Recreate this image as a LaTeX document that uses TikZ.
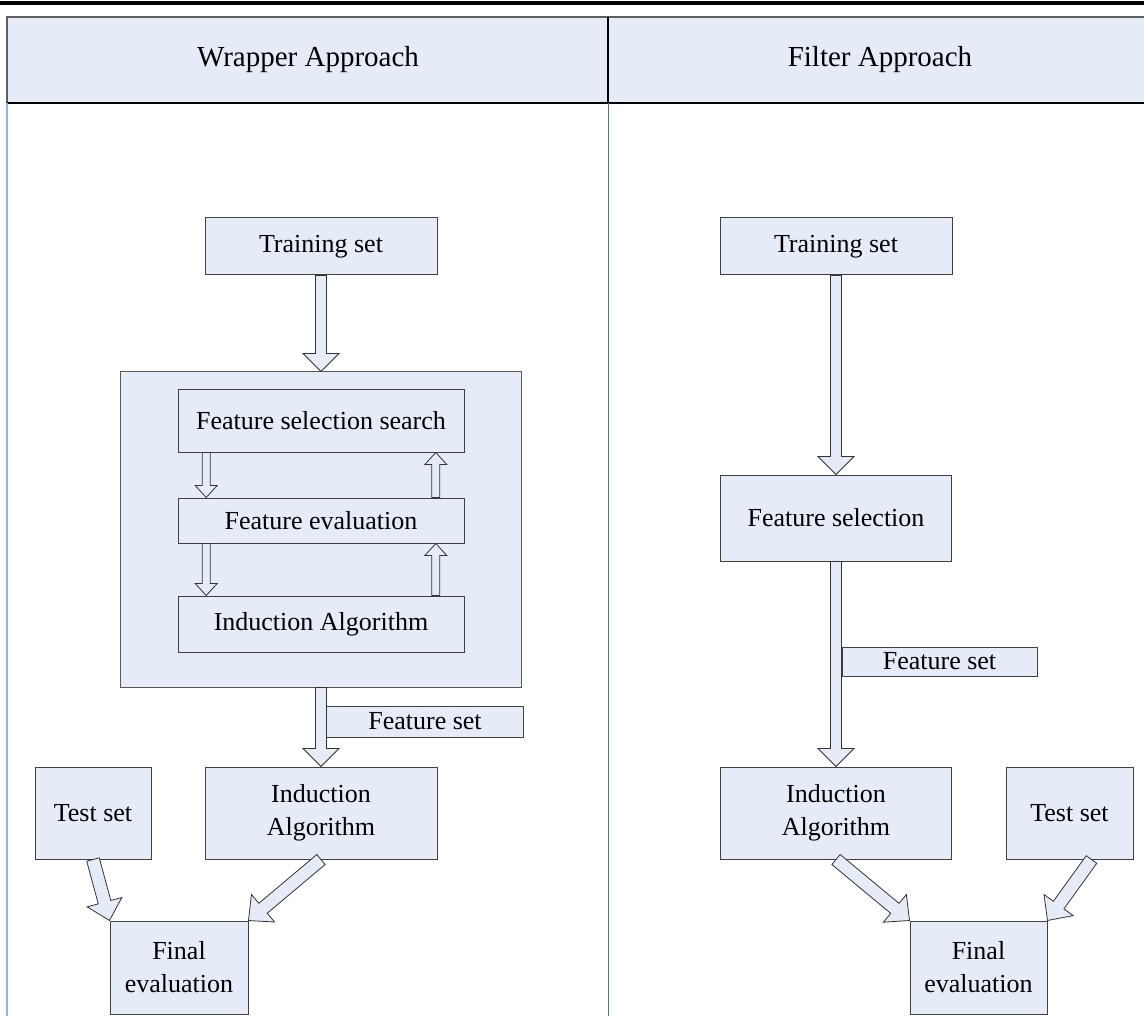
\documentclass[tikz,border=0pt]{standalone}
\usepackage{fontspec}
\setmainfont{Liberation Serif}
\usetikzlibrary{calc,positioning}
\definecolor{boxfill}{RGB}{230,236,247}
\definecolor{rulegray}{RGB}{95,95,95}
\definecolor{leftblue}{RGB}{141,179,226}
\definecolor{divblue}{RGB}{68,114,196}
\tikzset{
  box/.style={draw=black!75, fill=boxfill, line width=1pt, inner sep=0pt,
    align=center, font=\fontsize{26}{33}\selectfont},
  outer box/.style={box, draw=black!65},
  head text/.style={font=\fontsize{29}{34}\selectfont},
  block arrow/.style={draw=black!80, fill=boxfill, line width=0.8pt, line join=miter},
}
% hollow block arrow: #1 from, #2 to, #3 half shaft, #4 half head, #5 head length
\newcommand{\blockarrow}[5]{%
  \coordinate (ba-h) at ($(#2)!#5!(#1)$);
  \filldraw[block arrow]
    ($(#1)!#3!90:(#2)$) -- ($(ba-h)!#3!90:(#2)$) -- ($(ba-h)!#4!90:(#2)$) -- (#2)
    -- ($(ba-h)!#4!-90:(#2)$) -- ($(ba-h)!#3!-90:(#2)$) -- ($(#1)!#3!-90:(#2)$) -- cycle;
}

\begin{document}
\begin{tikzpicture}[x=1pt, y=-1pt]
  \useasboundingbox (0,0) rectangle (1144,1016);

  % Page rule and table header
  \draw[line width=4pt] (0,3) -- (1144,3);
  \fill[boxfill] (7,17) rectangle (1144,103);
  \draw[rulegray, line width=1.2pt] (7,103) -- (7,17) -- (1144,17);
  \draw[line width=1.5pt] (7,103) -- (1144,103);
  \draw[line width=1.2pt] (608,17) -- (608,103);
  \draw[leftblue, line width=1.5pt] (7,103) -- (7,1016);
  \draw[divblue, line width=1pt] (608,103) -- (608,1016);
  \node[head text] (wrapHead) at (308,60) {Wrapper Approach};
  \node[head text] (filtHead) at (880,60) {Filter Approach};

  % Wrapper approach
  \node[box, minimum width=232pt, minimum height=57pt] (trainW) at (321,246.5) {Training set};
  \node[outer box, minimum width=401pt, minimum height=315pt] (wrapBox) at (321,529.5) {};
  \node[box, minimum width=286pt, minimum height=62pt] (searchW) at (321,421) {Feature selection search};
  \node[box, minimum width=286pt, minimum height=45pt] (evalW) at (321,520.5) {Feature evaluation};
  \node[box, minimum width=286pt, minimum height=56pt] (inducIn) at (321,624) {Induction Algorithm};
  \node[box, minimum width=197pt, minimum height=31pt] (fsetW) at (425,721.5) {Feature set};
  \node[box, minimum width=232pt, minimum height=92pt] (inducW) at (321,813) {Induction\\Algorithm};
  \node[box, minimum width=116pt, minimum height=92pt] (testW) at (93,813) {Test set};
  \node[box, minimum width=138pt, minimum height=93pt] (finalW) at (179,967.5) {Final\\evaluation};

  \blockarrow{trainW.south}{wrapBox.north}{5.5pt}{18pt}{18pt}
  \blockarrow{wrapBox.south}{inducW.north}{5.5pt}{18pt}{18pt}

  % loop between search, evaluation and induction
  \foreach \a/\b in {searchW/evalW, evalW/inducIn} {
    \coordinate (\a-dn) at ($(\a.south west)!0.1!(\a.south east)$);
    \coordinate (\b-in) at ($(\b.north west)!0.1!(\b.north east)$);
    \coordinate (\b-up) at ($(\b.north west)!0.9!(\b.north east)$);
    \coordinate (\a-back) at ($(\a.south west)!0.9!(\a.south east)$);
    \blockarrow{\a-dn}{\b-in}{4pt}{11pt}{12pt}
    \blockarrow{\b-up}{\a-back}{4pt}{11pt}{12pt}
  }

  \blockarrow{testW.south}{finalW.north west}{6.5pt}{18pt}{19pt}
  \blockarrow{inducW.south}{finalW.north east}{6.5pt}{18pt}{19pt}

  % Filter approach
  \node[box, minimum width=232pt, minimum height=57pt] (trainF) at (836,246.5) {Training set};
  \node[box, minimum width=231pt, minimum height=86pt] (selectF) at (836,518) {Feature selection};
  \node[box, minimum width=195pt, minimum height=29pt] (fsetF) at (939.5,661.5) {Feature set};
  \node[box, minimum width=231pt, minimum height=92pt] (inducF) at (836,813) {Induction\\Algorithm};
  \node[box, minimum width=127pt, minimum height=92pt] (testF) at (1069.5,813) {Test set};
  \node[box, minimum width=137pt, minimum height=93pt] (finalF) at (978.5,967.5) {Final\\evaluation};

  \blockarrow{trainF.south}{selectF.north}{5.5pt}{18pt}{18pt}
  \blockarrow{selectF.south}{inducF.north}{5.5pt}{18pt}{18pt}
  \coordinate (testF-out) at ($(testF.south)+(22,0)$);
  \blockarrow{inducF.south}{finalF.north west}{6.5pt}{18pt}{19pt}
  \blockarrow{testF-out}{finalF.north east}{6.5pt}{18pt}{19pt}

\end{tikzpicture}
\end{document}
